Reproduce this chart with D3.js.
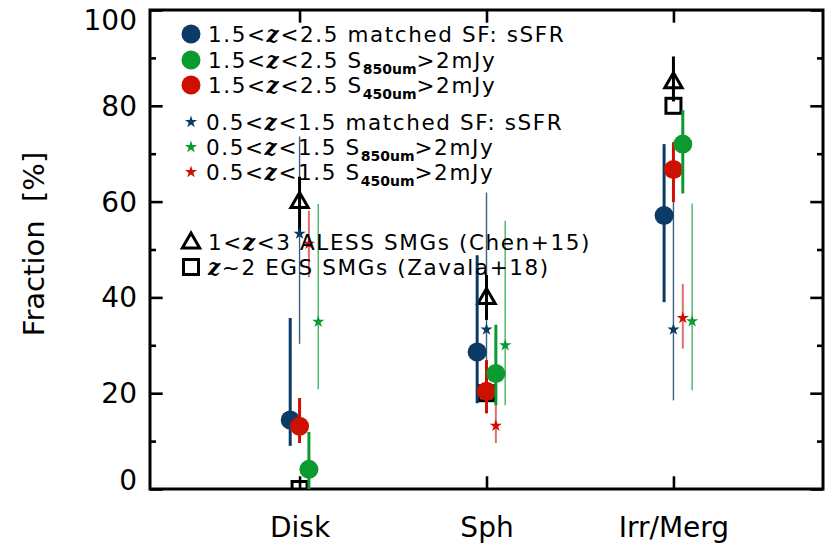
<!DOCTYPE html>
<html>
<head>
<meta charset="utf-8">
<script src="https://cdn.jsdelivr.net/npm/d3@7"></script>
<style>
  body { margin: 0; background: #fff; }
  svg { display: block; font-family: 'DejaVu Sans', sans-serif; }
</style>
</head>
<body>
<div id="container"></div>
<script>
const { d3 } = window;

// categories on the x axis (positions 1, 2, 3)
const categories = ['Disk', 'Sph', 'Irr/Merg'];
const catPos = [1, 2, 3];

// 1.5<z<2.5 (filled circles)
const hiSF = [14.4, 28.6, 57.1];
const hiSFLo = [9.0, 17.9, 39.0];
const hiSFHi = [35.7, 48.8, 72.0];
const hi850 = [4.1, 24.1, 72.0];
const hi850Lo = [0, 17.5, 61.7];
const hi850Hi = [11.9, 34.3, 79.1];
const hi450 = [13.1, 20.4, 66.7];
const hi450Lo = [9.6, 15.8, 59.9];
const hi450Hi = [19.0, 26.9, 72.4];

// 0.5<z<1.5 (stars)
const loSF = [53.3, 33.3, 33.3];
const loSFLo = [30.3, 17.9, 18.5];
const loSFHi = [73.6, 61.9, 61.9];
const lo850 = [34.9, 30.0, 35.0];
const lo850Lo = [20.8, 17.5, 20.6];
const lo850Hi = [59.5, 56.0, 59.6];
const lo450 = [51.2, 13.2, 35.7];
const lo450Lo = [44.2, 9.6, 29.3];
const lo450Hi = [58.1, 19.9, 42.8];

// literature SMGs
const aless = [60, 40, 85];
const alessLo = [53.7, 35.3, 80.9];
const alessHi = [65.2, 44.7, 90.3];
const egs = [0, 20, 80];

const yMajor = [0, 20, 40, 60, 80, 100];
const yMinor = [10, 30, 50, 70, 90];

const BLUE = '#0b3a66';
const GREEN = '#0a9a30';
const RED = '#cc1100';

const W = 830;
const H = 553;
const M = { left: 150, right: 823, top: 10, bottom: 489 };

const x = d3.scaleLinear().domain([0.2, 3.8]).range([M.left, M.right]);
const y = d3.scaleLinear().domain([0, 100]).range([M.bottom, M.top]);

const svg = d3.select('#container').append('svg')
  .attr('width', W)
  .attr('height', H);

svg.append('clipPath').attr('id', 'plot')
  .append('rect')
  .attr('x', M.left).attr('y', M.top)
  .attr('width', M.right - M.left).attr('height', M.bottom - M.top);

function styleAxis(g) {
  g.select('.domain').remove();
  g.selectAll('line').attr('stroke', '#000').attr('stroke-width', 2.6);
  g.selectAll('text').attr('fill', '#000').style('font-family', "'DejaVu Sans', sans-serif");
}

// left axis
const left = svg.append('g').attr('transform', `translate(${M.left},0)`)
  .call(d3.axisLeft(y).tickValues(yMajor).tickSizeInner(-12.7).tickSizeOuter(0).tickPadding(13))
  .call(styleAxis);
left.selectAll('text').style('font-size', '28px')
  .attr('dy', (d) => (d === 100 ? '0.7em' : (d === 0 ? '0em' : '0.34em')));
svg.append('g').attr('transform', `translate(${M.left},0)`)
  .call(d3.axisLeft(y).tickValues(yMinor).tickSizeInner(-6).tickSizeOuter(0).tickFormat(''))
  .call(styleAxis);

// right axis
svg.append('g').attr('transform', `translate(${M.right},0)`)
  .call(d3.axisRight(y).tickValues(yMajor).tickSizeInner(-12.7).tickSizeOuter(0).tickFormat(''))
  .call(styleAxis);
svg.append('g').attr('transform', `translate(${M.right},0)`)
  .call(d3.axisRight(y).tickValues(yMinor).tickSizeInner(-6).tickSizeOuter(0).tickFormat(''))
  .call(styleAxis);

// bottom + top axes
const bottom = svg.append('g').attr('transform', `translate(0,${M.bottom})`)
  .call(d3.axisBottom(x).tickValues(catPos).tickSizeInner(-12.7).tickSizeOuter(0).tickPadding(28)
    .tickFormat((d, i) => categories[i]))
  .call(styleAxis);
bottom.selectAll('text').style('font-size', '28px');
svg.append('g').attr('transform', `translate(0,${M.top})`)
  .call(d3.axisTop(x).tickValues(catPos).tickSizeInner(-12.7).tickSizeOuter(0).tickFormat(''))
  .call(styleAxis);

// frame
svg.append('rect')
  .attr('x', M.left).attr('y', M.top)
  .attr('width', M.right - M.left).attr('height', M.bottom - M.top)
  .attr('fill', 'none').attr('stroke', '#000').attr('stroke-width', 3);

svg.append('text')
  .attr('transform', 'translate(44,244) rotate(-90)')
  .attr('text-anchor', 'middle')
  .style('font-size', '29px')
  .style('white-space', 'pre')
  .text('Fraction  [%]');

const plot = svg.append('g').attr('clip-path', 'url(#plot)');

function errBars(vals, lo, hi, dx, color, width, opacity) {
  plot.append('g').selectAll('line').data(vals).join('line')
    .attr('x1', (d, i) => x(catPos[i] + dx))
    .attr('x2', (d, i) => x(catPos[i] + dx))
    .attr('y1', (d, i) => y(lo[i]))
    .attr('y2', (d, i) => y(hi[i]))
    .attr('stroke', color)
    .attr('stroke-width', width)
    .attr('stroke-opacity', opacity);
}

const star = d3.symbol().type(d3.symbolStar).size(46);
const tri = d3.symbol().type(d3.symbolTriangle).size(130);

function stars(vals, dx, color) {
  plot.append('g').selectAll('path').data(vals).join('path')
    .attr('transform', (d, i) => `translate(${x(catPos[i] + dx)},${y(d)})`)
    .attr('d', star)
    .attr('fill', color);
}

function circles(vals, dx, color) {
  plot.append('g').selectAll('circle').data(vals).join('circle')
    .attr('cx', (d, i) => x(catPos[i] + dx))
    .attr('cy', (d) => y(d))
    .attr('r', 9.5)
    .attr('fill', color);
}

// star error bars
errBars(loSF, loSFLo, loSFHi, 0, BLUE, 1.4, 0.8);
errBars(lo850, lo850Lo, lo850Hi, 0.1, GREEN, 1.4, 0.75);
errBars(lo450, lo450Lo, lo450Hi, 0.05, RED, 2, 0.6);

// literature points
errBars(aless, alessLo, alessHi, 0, '#000', 3, 1);
plot.append('g').selectAll('path').data(aless).join('path')
  .attr('transform', (d, i) => `translate(${x(catPos[i])},${y(d) + 1})`)
  .attr('d', tri)
  .attr('fill', 'none')
  .attr('stroke', '#000')
  .attr('stroke-width', 3);
plot.append('g').selectAll('rect').data(egs).join('rect')
  .attr('x', (d, i) => x(catPos[i]) - 7.5)
  .attr('y', (d) => y(d) - 7.5)
  .attr('width', 15)
  .attr('height', 15)
  .attr('fill', 'none')
  .attr('stroke', '#000')
  .attr('stroke-width', 3);

stars(loSF, 0, BLUE);
stars(lo850, 0.1, GREEN);
stars(lo450, 0.05, RED);

errBars(hiSF, hiSFLo, hiSFHi, -0.05, BLUE, 3, 1);
circles(hiSF, -0.05, BLUE);
errBars(hi450, hi450Lo, hi450Hi, 0, RED, 3, 1);
circles(hi450, 0, RED);
errBars(hi850, hi850Lo, hi850Hi, 0.05, GREEN, 3, 1);
circles(hi850, 0.05, GREEN);

// legend
const legendRows = [
  { y: 34, mark: 'circle', color: BLUE, pre: '1.5<', post: '<2.5 matched SF: sSFR' },
  { y: 60, mark: 'circle', color: GREEN, pre: '1.5<', post: '<2.5 S', sub: '850um', tail: '>2mJy' },
  { y: 85, mark: 'circle', color: RED, pre: '1.5<', post: '<2.5 S', sub: '450um', tail: '>2mJy' },
  { y: 122, mark: 'star', color: BLUE, pre: '0.5<', post: '<1.5 matched SF: sSFR' },
  { y: 147, mark: 'star', color: GREEN, pre: '0.5<', post: '<1.5 S', sub: '850um', tail: '>2mJy' },
  { y: 172, mark: 'star', color: RED, pre: '0.5<', post: '<1.5 S', sub: '450um', tail: '>2mJy' },
  { y: 242, mark: 'tri', color: '#000', pre: '1<', post: '<3 ALESS SMGs (Chen+15)' },
  { y: 267, mark: 'square', color: '#000', pre: '', post: '~2 EGS SMGs (Zavala+18)' },
];

const legend = svg.append('g');
legendRows.forEach((r) => {
  const mx = 191;
  if (r.mark === 'circle') {
    legend.append('circle').attr('cx', mx).attr('cy', r.y).attr('r', 9.5).attr('fill', r.color);
  } else if (r.mark === 'star') {
    legend.append('path').attr('transform', `translate(${mx},${r.y})`).attr('d', star).attr('fill', r.color);
  } else if (r.mark === 'tri') {
    legend.append('path').attr('transform', `translate(${mx},${r.y + 1})`).attr('d', tri)
      .attr('fill', 'none').attr('stroke', '#000').attr('stroke-width', 3);
  } else {
    legend.append('rect').attr('x', mx - 7.5).attr('y', r.y - 7.5).attr('width', 15).attr('height', 15)
      .attr('fill', 'none').attr('stroke', '#000').attr('stroke-width', 3);
  }
  const t = legend.append('text')
    .attr('x', r.mark === 'star' ? 206 : 208)
    .attr('y', r.y + 8)
    .style('font-size', '21.5px')
    .style('letter-spacing', '1.6px');
  if (r.pre) t.append('tspan').text(r.pre);
  t.append('tspan').style('font-family', "'DejaVu Serif', serif").style('font-style', 'italic')
    .style('font-weight', 'bold').text('z');
  t.append('tspan').text(r.post);
  if (r.sub) {
    t.append('tspan').attr('dy', 6).style('font-size', '14px').style('font-weight', 'bold')
      .style('letter-spacing', '0px').text(r.sub);
    t.append('tspan').attr('dy', -6).text(r.tail);
  }
});
</script>
</body>
</html>
